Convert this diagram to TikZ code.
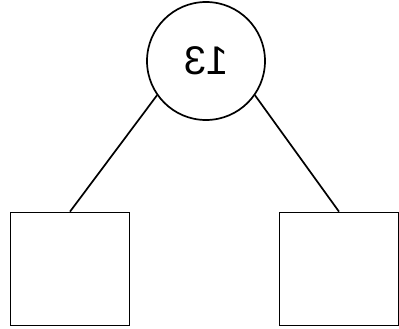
\documentclass[tikz,border=0pt]{standalone}
\usepackage{fontspec}
\newfontfamily\numfont{Liberation Sans}
\usepackage{tikz}
\tikzset{
  rootnode/.style={draw, circle, line width=1.7pt, minimum size=118pt, inner sep=0pt,
                   font=\numfont\fontsize{40}{42}\selectfont},
  leafbox/.style={draw, line width=1.7pt, minimum width=119pt, minimum height=113pt, inner sep=0pt},
  branch/.style={line width=1.7pt},
}
\begin{document}
\begin{tikzpicture}[x=1pt, y=-1pt]
  \useasboundingbox (0,0) rectangle (399,329);
  \node[rootnode] (root) at (206,61) {\reflectbox{13}};
  \node[leafbox] (leftleaf) at (70,269) {};
  \node[leafbox] (rightleaf) at (339,269) {};
  \draw[branch] (root.215) -- (leftleaf.north);
  \draw[branch] (root.325) -- (rightleaf.north);
\end{tikzpicture}
\end{document}
